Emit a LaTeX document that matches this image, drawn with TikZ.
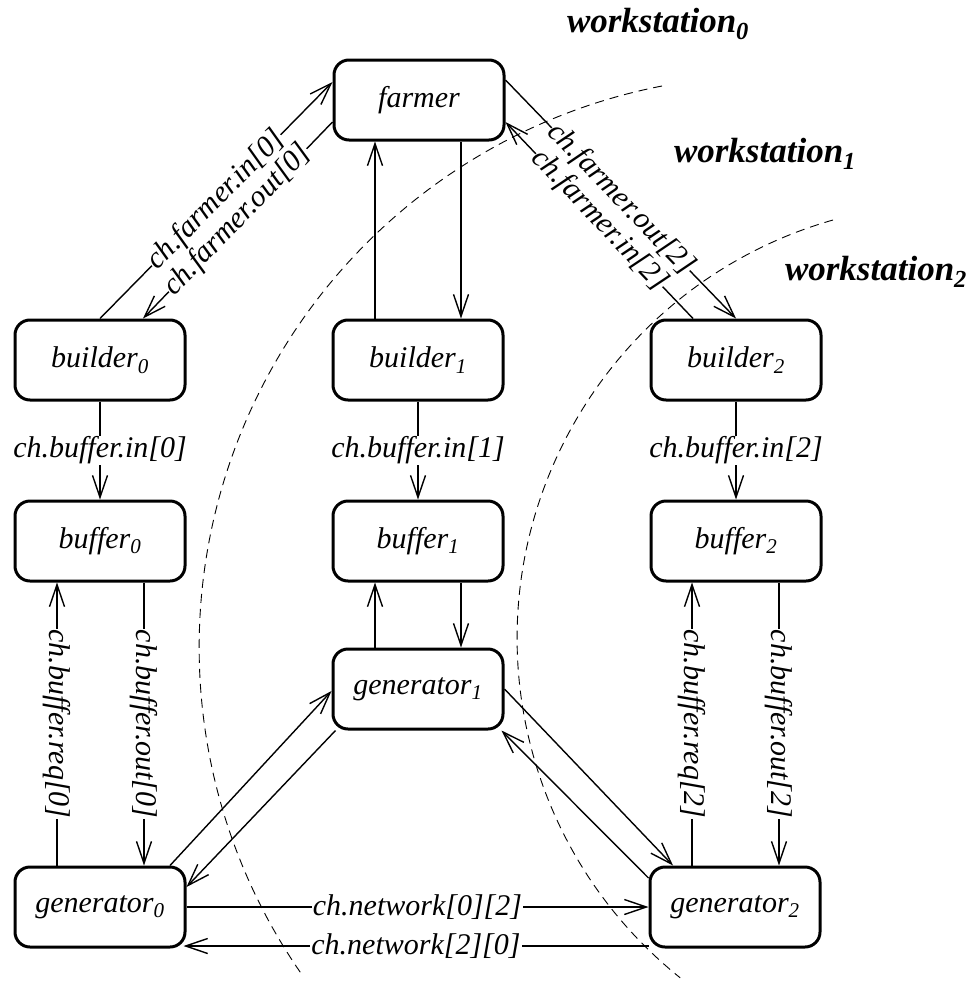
\documentclass[tikz,border=0pt]{standalone}
\usepackage{fontspec}
\setmainfont[Ligatures=NoCommon]{Liberation Serif}
\usetikzlibrary{arrows.meta}
\begin{document}
\begin{tikzpicture}[x=1pt,y=-1pt,
  proc/.style={draw, line width=3pt, rounded corners=15pt, minimum width=170pt,
    minimum height=80pt, inner sep=0pt, font=\fontsize{30}{34}\selectfont\itshape},
  chan/.style={line width=1.4pt, -{Straight Barb[length=22pt,width=15pt,line width=1.4pt]}},
  lbl/.style={fill=white, inner sep=1pt, font=\fontsize{30}{34}\selectfont\itshape},
  slbl/.style={lbl, sloped, inner sep=0pt},
  zone/.style={line width=0.9pt, dash pattern=on 9pt off 6pt},
  ws/.style={font=\fontsize{35}{40}\selectfont\bfseries\itshape}
]
\useasboundingbox (0,0) rectangle (975,988);

% workstation boundaries
\draw[zone] (662,86) arc[start angle=259, end angle=145, radius=572];
\draw[zone] (833,220) arc[start angle=254.1, end angle=128.7, radius=435];

\node[ws] (ws0) at (658,24) {workstation\textsubscript{0}};
\node[ws] (ws1) at (765,154) {workstation\textsubscript{1}};
\node[ws] (ws2) at (876,272) {workstation\textsubscript{2}};

% processes
\node[proc] (farmer) at (419,100) {farmer};
\node[proc] (b0) at (100,360) {builder\textsubscript{0}};
\node[proc] (b1) at (418,360) {builder\textsubscript{1}};
\node[proc] (b2) at (736,360) {builder\textsubscript{2}};
\node[proc] (f0) at (100,541) {buffer\textsubscript{0}};
\node[proc] (f1) at (418,541) {buffer\textsubscript{1}};
\node[proc] (f2) at (736,541) {buffer\textsubscript{2}};
\node[proc] (g1) at (418,689) {generator\textsubscript{1}};
\node[proc] (g0) at (100,907) {generator\textsubscript{0}};
\node[proc] (g2) at (735,907) {generator\textsubscript{2}};

% farmer channels
\draw[chan] (b0.north) -- node[slbl] {ch.farmer.in[0]} ([yshift=18pt]farmer.west);
\draw[chan] ([yshift=-22pt]farmer.west) -- node[slbl] {ch.farmer.out[0]} ([xshift=43pt]b0.north);
\draw[chan] ([xshift=-43pt]b1.north) -- ([xshift=-44pt]farmer.south);
\draw[chan] ([xshift=42pt]farmer.south) -- ([xshift=43pt]b1.north);
\draw[chan] ([yshift=20pt]farmer.east) -- node[slbl] {ch.farmer.out[2]} (b2.north);
\draw[chan] ([xshift=-43pt]b2.north) -- node[slbl] {ch.farmer.in[2]} ([yshift=-22pt]farmer.east);

% builder to buffer
\draw[chan] (b0.south) -- node[lbl] {ch.buffer.in[0]} (f0.north);
\draw[chan] (b1.south) -- node[lbl] {ch.buffer.in[1]} (f1.north);
\draw[chan] (b2.south) -- node[lbl] {ch.buffer.in[2]} (f2.north);

% buffer and generator
\draw[chan] ([xshift=-43pt]g0.north) -- node[lbl, rotate=-90] {ch.buffer.req[0]} ([xshift=-43pt]f0.south);
\draw[chan] ([xshift=44pt]f0.south) -- node[lbl, rotate=-90] {ch.buffer.out[0]} ([xshift=44pt]g0.north);
\draw[chan] ([xshift=-43pt]g1.north) -- ([xshift=-43pt]f1.south);
\draw[chan] ([xshift=43pt]f1.south) -- ([xshift=43pt]g1.north);
\draw[chan] ([xshift=-43pt]g2.north) -- node[lbl, rotate=-90] {ch.buffer.req[2]} ([xshift=-44pt]f2.south);
\draw[chan] ([xshift=43pt]f2.south) -- node[lbl, rotate=-90] {ch.buffer.out[2]} ([xshift=44pt]g2.north);

% network between generators
\draw[chan] ([xshift=70pt]g0.north) -- ([yshift=-2pt]g1.west);
\draw[chan] ([xshift=4pt]g1.south west) -- ([yshift=20pt]g0.east);
\draw[chan] (g1.east) -- ([xshift=-62pt]g2.north);
\draw[chan] ([yshift=29pt]g2.west) -- ([xshift=-3pt]g1.south east);
\draw[chan] (g0.east) -- node[lbl] {ch.network[0][2]} (g2.west);
\draw[chan] ([yshift=-39pt]g2.west) -- node[lbl] {ch.network[2][0]} ([xshift=-3pt,yshift=-39pt]g0.east);
\end{tikzpicture}
\end{document}
